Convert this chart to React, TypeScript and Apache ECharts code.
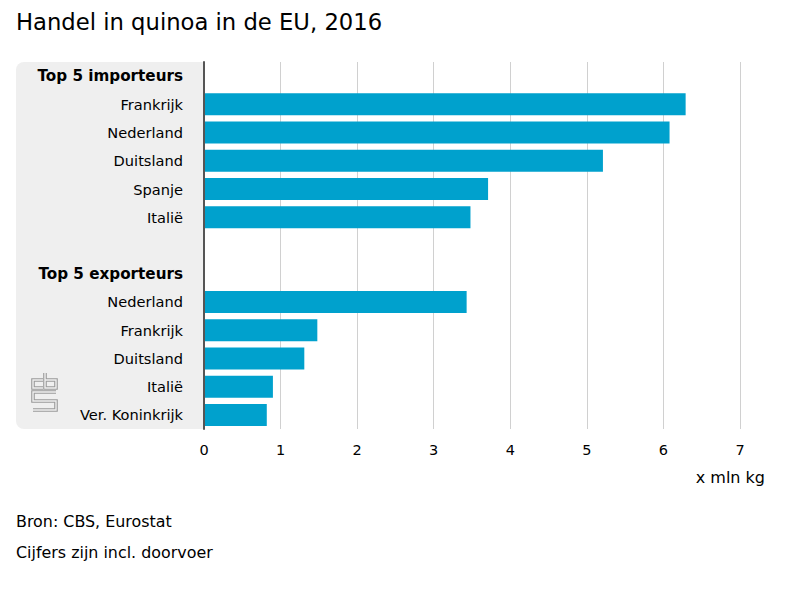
import React, { useEffect, useRef } from "react";
import * as echarts from "echarts";

const title = "Handel in quinoa in de EU, 2016";
const importHeader = "Top 5 importeurs";
const exportHeader = "Top 5 exporteurs";
const importCountries = ["Frankrijk", "Nederland", "Duitsland", "Spanje", "Italië"];
const importValues = [6.29, 6.08, 5.21, 3.71, 3.48];
const exportCountries = ["Nederland", "Frankrijk", "Duitsland", "Italië", "Ver. Koninkrijk"];
const exportValues = [3.43, 1.48, 1.31, 0.9, 0.82];
const unitLabel = "x mln kg";
const notes = ["Bron: CBS, Eurostat", "Cijfers zijn incl. doorvoer"];

const FONT = "DejaVu Sans";

export default function App() {
  const ref = useRef<HTMLDivElement>(null);
  useEffect(() => {
    document.body.style.margin = "0";
    if (!ref.current) return;
    const chart = echarts.init(ref.current, null, { renderer: "svg" });

    const labels: string[] = [importHeader, ...importCountries, "", exportHeader, ...exportCountries];
    const headerIdx = new Set([0, importCountries.length + 2]);
    const values: (number | null)[] = [null, ...importValues, null, null, ...exportValues];
    const keys = labels.map((_, i) => "c" + i);

    const logoLines = [
      [[43, 380], [33, 380], [33, 388], [43, 388]],
      [[45, 373], [45, 388], [56, 388], [56, 380], [45, 380]],
      [[56, 392], [33, 392], [33, 401], [56, 401], [56, 410], [33, 410]],
    ];
    const logoEls: any[] = [];
    logoLines.forEach((pts) => {
      logoEls.push({ type: "polyline", shape: { points: pts }, style: { stroke: "#9a9a9a", lineWidth: 3.6, fill: null }, z: -5 });
    });
    logoLines.forEach((pts) => {
      logoEls.push({ type: "polyline", shape: { points: pts }, style: { stroke: "#efefef", lineWidth: 1.4, fill: null }, z: -4 });
    });

    chart.setOption({
      animation: false,
      textStyle: { fontFamily: FONT },
      title: {
        text: title,
        left: 11,
        top: 5,
        textStyle: { fontFamily: FONT, fontSize: 22.7, fontWeight: "normal", color: "#000" },
      },
      grid: { left: 204, top: 62, width: 536, height: 367, outerBoundsMode: "none" } as any,
      xAxis: {
        type: "value",
        min: 0,
        max: 7,
        interval: 1,
        axisLine: { show: false },
        axisTick: { show: false },
        splitLine: { lineStyle: { color: "#d0d0d0", width: 1 } },
        axisLabel: { color: "#000", fontSize: 14.5, fontFamily: FONT, margin: 13 },
      },
      yAxis: {
        type: "category",
        inverse: true,
        data: keys,
        axisTick: { show: false },
        axisLine: { show: true, lineStyle: { color: "#555", width: 2 } },
        axisLabel: {
          margin: 21,
          color: "#000",
          fontSize: 14.6,
          fontFamily: FONT,
          formatter: (_v: string, i: number) =>
            headerIdx.has(i) ? "{h|" + labels[i] + "}" : labels[i],
          rich: { h: { fontWeight: "bold", fontSize: 15.2, fontFamily: FONT, color: "#000" } },
        },
        z: 3,
      },
      series: [
        {
          type: "bar",
          data: values,
          barWidth: 22,
          itemStyle: { color: "#00a1cd" },
          z: 2,
        },
      ],
      graphic: [
        {
          type: "rect",
          shape: { x: 16, y: 62, width: 188, height: 367, r: [8, 0, 0, 8] },
          style: { fill: "#efefef" },
          z: -10,
        },
        ...logoEls,
        {
          type: "text",
          x: 765,
          y: 477,
          style: { text: unitLabel, font: `16px '${FONT}'`, fill: "#000", textAlign: "right", textVerticalAlign: "middle" },
        },
        ...notes.map((t, i) => ({
          type: "text",
          x: 16,
          y: 521 + i * 31,
          style: { text: t, font: `15.9px '${FONT}'`, fill: "#000", textAlign: "left", textVerticalAlign: "middle" },
        })),
      ],
    });
    return () => chart.dispose();
  }, []);
  return <div ref={ref} style={{ width: 800, height: 600 }} />;
}
